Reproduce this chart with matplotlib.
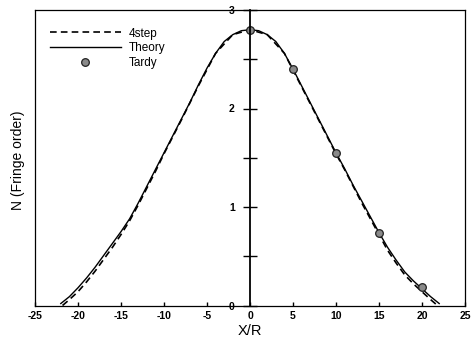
import matplotlib
matplotlib.use("Agg")
import matplotlib.pyplot as plt
from matplotlib.lines import Line2D

plt.rcParams['font.family'] = ['Liberation Sans', 'DejaVu Sans']

# Theory curve
theory_x = [-22, -21, -20, -19, -18, -17, -16, -15, -14, -13, -12, -11, -10, -9, -8, -7, -6, -5, -4, -3, -2, -1,
            0, 1, 2, 3, 4, 5, 6, 7, 8, 9, 10, 11, 12, 13, 14, 15, 16, 17, 18, 19, 20, 21, 22]
theory_y = [0.02, 0.09, 0.18, 0.28, 0.39, 0.51, 0.63, 0.75, 0.88, 1.04, 1.21, 1.38, 1.55, 1.72, 1.89, 2.06, 2.24, 2.41, 2.56, 2.68, 2.75, 2.79,
            2.80, 2.79, 2.75, 2.68, 2.56, 2.40, 2.23, 2.06, 1.89, 1.72, 1.55, 1.39, 1.22, 1.06, 0.90, 0.74, 0.59, 0.46, 0.34, 0.25, 0.17, 0.09, 0.02]

# 4step measurements
step4_x = [-21.8, -21, -20, -19, -18, -17, -16, -15, -14, -13, -12, -11, -10, -8, -6, -4, -2,
           0, 2, 4, 6, 8, 10, 11, 12, 13, 14, 15, 16, 17, 18, 19, 20, 21, 21.8]
step4_y = [0.00, 0.06, 0.14, 0.24, 0.35, 0.47, 0.59, 0.72, 0.86, 1.02, 1.19, 1.36, 1.54, 1.88, 2.23, 2.56, 2.75,
           2.80, 2.75, 2.56, 2.22, 1.88, 1.54, 1.38, 1.21, 1.04, 0.88, 0.72, 0.56, 0.43, 0.31, 0.22, 0.14, 0.06, 0.00]

# Tardy points
tardy_x = [0, 5, 10, 15, 20]
tardy_y = [2.80, 2.40, 1.55, 0.74, 0.19]

fig = plt.figure(figsize=(4.76, 3.40), dpi=100)
ax = fig.add_axes([35/476, 1 - 305.5/340, 430/476, 295.5/340])

ax.plot(step4_x, step4_y, color='black', lw=1.2, ls=(0, (4, 2.5)))
ax.plot(theory_x, theory_y, color='black', lw=1.0)
ax.plot(tardy_x, tardy_y, ls='none', marker='o', ms=5.5, mfc='#8a8a8a', mec='#222222', mew=0.9)

ax.set_xlim(-25, 25)
ax.set_ylim(0, 3)

ax.spines['left'].set_position(('data', 0))
ax.spines['left'].set_linewidth(1.3)
for s in ['top', 'right', 'bottom']:
    ax.spines[s].set_linewidth(0.9)
ax.axvline(-25, color='black', lw=0.9, clip_on=False)

ax.set_xticks(list(range(-25, 26, 5)))
ax.set_xticklabels([str(v) for v in range(-25, 26, 5)])
ax.set_xticks([-20, -10, 10, 20], minor=True)
ax.tick_params(axis='x', which='major', direction='in', length=3, width=1, pad=4, labelsize=7.5)
ax.tick_params(axis='x', which='minor', direction='in', length=7.5, width=1)
for lbl in ax.get_xticklabels():
    lbl.set_fontweight('bold')

ax.set_yticks([0, 1, 2, 3])
ax.set_yticklabels(['0', '1', '2', '3'])
ax.set_yticks([0.5, 1.5, 2.5], minor=True)
ax.tick_params(axis='y', which='both', direction='inout', length=10, width=1, pad=6, labelsize=7.5)
for lbl in ax.get_yticklabels():
    lbl.set_fontweight('bold')

ax.set_xlabel('X/R', fontsize=10.5, labelpad=2)
fig.text(18/476, 1 - 160/340, 'N (Fringe order)', rotation=90, fontsize=10, ha='center', va='center')

handles = [
    Line2D([], [], color='black', lw=1.2, ls=(0, (4, 2.5))),
    Line2D([], [], color='black', lw=1.0),
    Line2D([], [], ls='none', marker='o', ms=5.5, mfc='#8a8a8a', mec='#222222', mew=0.9),
]
ax.legend(handles, ['4step', 'Theory', 'Tardy'], loc='upper left', frameon=False,
          fontsize=8.5, handlelength=6.0, handletextpad=0.7, labelspacing=0.25,
          bbox_to_anchor=(15/430, (305.5 - 27.5)/295.5), borderaxespad=0, borderpad=0)

fig.savefig('out.png', dpi=100)
